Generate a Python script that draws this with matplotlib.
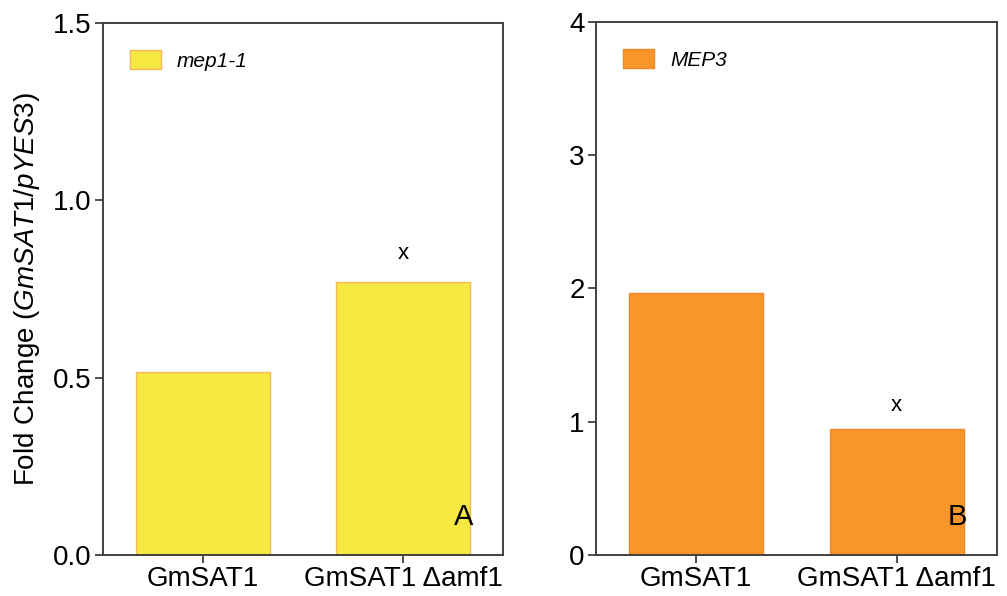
import numpy as np
import matplotlib
matplotlib.use('Agg')
import matplotlib.pyplot as plt

plt.rcParams['font.family'] = ['Liberation Sans', 'DejaVu Sans']
plt.rcParams['mathtext.fontset'] = 'custom'
plt.rcParams['mathtext.rm'] = 'Liberation Sans'
plt.rcParams['mathtext.it'] = 'Liberation Sans:italic'

# fold change data for the two panels
categories = ['GmSAT1', 'GmSAT1 \u0394amf1']
mep1_values = [0.515, 0.770]
mep3_values = [1.965, 0.945]
mep1_marks = ['', 'x']
mep3_marks = ['', 'x']

fig = plt.figure(figsize=(10.07, 5.96), dpi=100)
axA = fig.add_axes([0.1023, 0.0688, 0.3972, 0.8926])
axB = fig.add_axes([0.5918, 0.0688, 0.3982, 0.8943])

spine_col = '#404040'

def panel(ax, vals, marks, face, edge, label, ymax, yticks, ticklabels, letter, mark_off):
    x = np.arange(len(categories))
    ax.bar(x, vals, width=0.67, color=face, edgecolor=edge, linewidth=1.0, label=label)
    for xi, v, m in zip(x, vals, marks):
        if m:
            ax.text(xi, v + mark_off, m, ha='center', va='center', fontsize=16)
    ax.set_xlim(-0.5, 1.5)
    ax.set_ylim(0, ymax)
    ax.set_yticks(yticks)
    ax.set_yticklabels(ticklabels)
    ax.set_xticks(x)
    ax.set_xticklabels(categories)
    ax.tick_params(axis='both', direction='out', length=6, width=1.3, color=spine_col,
                   labelsize=20, pad=2)
    for s in ax.spines.values():
        s.set_color(spine_col)
        s.set_linewidth(1.4)
    ax.legend(loc='upper left', frameon=False, handlelength=1.5,
              handleheight=1.05, handletextpad=0.75, borderaxespad=0.9,
              prop={'style': 'italic', 'size': 15})
    ax.text(0.925, 0.045, letter, transform=ax.transAxes, ha='right', va='bottom', fontsize=21)

panel(axA, mep1_values, mep1_marks, '#F7E842', '#F4B860', 'mep1-1', 1.5,
      [0.0, 0.5, 1.0, 1.5], ['0.0', '0.5', '1.0', '1.5'], 'A', 0.08)
panel(axB, mep3_values, mep3_marks, '#F8962C', '#F08828', 'MEP3', 4,
      [0, 1, 2, 3, 4], ['0', '1', '2', '3', '4'], 'B', 0.18)

axA.set_ylabel(r'Fold Change ($\mathit{GmSAT1/pYES3}$)', fontsize=20, labelpad=8)

fig.savefig('out.png', dpi=100)
